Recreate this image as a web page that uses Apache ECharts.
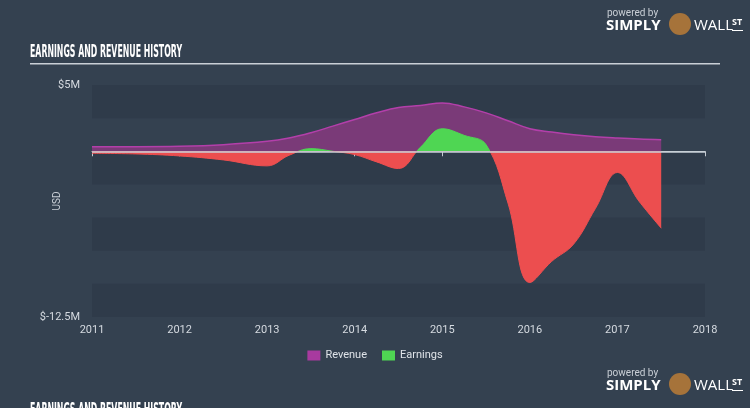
<!DOCTYPE html>
<html>
<head>
<meta charset="utf-8">
<script src="https://cdn.jsdelivr.net/npm/echarts@6/dist/echarts.min.js"></script>
<style>
  html, body { margin: 0; padding: 0; background: #344150; }
  #main { width: 750px; height: 408px; }
</style>
</head>
<body>
<div id="main"></div>
<script>
// values in $M, x in fractional years
const years = [2011, 2011.5, 2012, 2012.5, 2013, 2013.25, 2013.5, 2013.75, 2014, 2014.25, 2014.5, 2014.75,
  2015, 2015.25, 2015.5, 2015.75, 2016, 2016.25, 2016.5, 2016.75, 2017, 2017.25, 2017.5];
const revenue = [0.35, 0.35, 0.38, 0.5, 0.75, 1.0, 1.4, 1.9, 2.4, 2.9, 3.3, 3.45,
  3.65, 3.35, 2.9, 2.3, 1.7, 1.45, 1.25, 1.1, 1.0, 0.92, 0.87];
const earnings = [-0.15, -0.2, -0.35, -0.65, -1.1, -0.3, 0.2, 0.0, -0.25, -0.8, -1.3, 0.3,
  1.7, 1.2, 0.5, -3.9, -9.9, -8.3, -7.0, -4.3, -1.6, -3.8, -5.8];
const yTicks = [5, -12.5];

const pair = arr => years.map((y, i) => [y, arr[i]]);

const chart = echarts.init(document.getElementById('main'));

const titleFont = 'bold 17px "DejaVu Sans", sans-serif';

const option = {
  backgroundColor: '#344150',
  animation: false,
  textStyle: { fontFamily: 'Roboto, sans-serif' },
  grid: { left: 92, right: 45, top: 85, bottom: 91 },
  legend: {
    bottom: 42,
    left: 'center',
    itemWidth: 13,
    itemHeight: 10,
    itemGap: 15,
    icon: 'rect',
    textStyle: { color: '#dfe3e8', fontSize: 11 },
    data: [
      { name: 'Revenue', itemStyle: { color: '#a83a9f' } },
      { name: 'Earnings', itemStyle: { color: '#4fd653' } }
    ]
  },
  visualMap: {
    show: false,
    type: 'piecewise',
    seriesIndex: 1,
    dimension: 1,
    pieces: [
      { gt: 0, lte: 100, color: '#4fd653' },
      { gt: -100, lte: 0, color: '#ec4e4f' }
    ],
    outOfRange: { color: '#ec4e4f' }
  },
  xAxis: {
    type: 'value',
    min: 2011,
    max: 2018,
    interval: 1,
    axisLine: { lineStyle: { color: '#c3c9d0', width: 1 } },
    axisTick: { show: true, length: 5, lineStyle: { color: '#c3c9d0' } },
    axisLabel: { color: '#d5dae0', fontSize: 11, margin: 8, formatter: v => String(v) },
    splitLine: { show: false }
  },
  yAxis: {
    type: 'value',
    min: -12.5,
    max: 5,
    interval: 2.5,
    name: 'USD',
    nameLocation: 'middle',
    nameGap: 30,
    nameMoveOverlap: false,
    nameRotate: 90,
    nameTextStyle: { color: '#c9cfd6', fontSize: 10 },
    axisLine: { show: false },
    axisTick: { show: false },
    axisLabel: {
      color: '#d5dae0', fontSize: 11, margin: 12,
      formatter: v => yTicks.indexOf(v) >= 0 ? '$' + v + 'M' : ''
    },
    splitLine: { show: false },
    splitArea: { show: true, areaStyle: { color: ['#2f3b4a', 'rgba(0,0,0,0)'] } }
  },
  series: [
    {
      name: 'Revenue',
      type: 'line',
      smooth: 0.4,
      symbol: 'none',
      data: pair(revenue),
      itemStyle: { color: '#a83a9f' },
      lineStyle: { color: '#b33faa', width: 1.5 },
      areaStyle: { color: '#7a3a78', opacity: 1 },
      z: 2
    },
    {
      name: 'Earnings',
      type: 'line',
      smooth: 0.4,
      symbol: 'none',
      data: pair(earnings),
      lineStyle: { width: 1 },
      areaStyle: { opacity: 1 },
      z: 3
    },
    {
      name: 'zero',
      type: 'line',
      data: [],
      z: 4,
      markLine: {
        silent: true,
        symbol: ['none', 'none'],
        label: { show: false },
        lineStyle: { color: 'rgba(200,208,216,0.75)', type: 'solid', width: 2 },
        data: [{ yAxis: 0 }]
      }
    }
  ],
  graphic: [
    { type: 'text', x: 30, y: 44, scaleX: 0.46, style: { text: 'EARNINGS AND REVENUE HISTORY', fill: '#ffffff', font: titleFont } },
    { type: 'rect', shape: { x: 30, y: 63, width: 690, height: 1.5 }, style: { fill: '#c9cfd6' } },
    // logo top
    { type: 'text', left: 607, top: 8, style: { text: 'powered by', fill: '#c9cfd6', font: '10px Roboto, sans-serif' } },
    { type: 'text', left: 606, top: 18, style: { text: 'SIMPLY', fill: '#ffffff', font: 'bold 15px "Open Sans", sans-serif' } },
    { type: 'circle', shape: { cx: 680, cy: 24, r: 11 }, style: { fill: '#a6733a' } },
    { type: 'text', left: 694, top: 18, style: { text: 'WALL', fill: '#ffffff', font: '15px "Open Sans", sans-serif' } },
    { type: 'text', left: 732, top: 18, style: { text: 'ST', fill: '#ffffff', font: 'bold 9px "Open Sans", sans-serif' } },
    { type: 'rect', shape: { x: 732, y: 30, width: 11, height: 1 }, style: { fill: '#ffffff' } },
    // logo bottom
    { type: 'text', left: 607, top: 368, style: { text: 'powered by', fill: '#c9cfd6', font: '10px Roboto, sans-serif' } },
    { type: 'text', left: 606, top: 378, style: { text: 'SIMPLY', fill: '#ffffff', font: 'bold 15px "Open Sans", sans-serif' } },
    { type: 'circle', shape: { cx: 680, cy: 384, r: 11 }, style: { fill: '#a6733a' } },
    { type: 'text', left: 694, top: 378, style: { text: 'WALL', fill: '#ffffff', font: '15px "Open Sans", sans-serif' } },
    { type: 'text', left: 732, top: 378, style: { text: 'ST', fill: '#ffffff', font: 'bold 9px "Open Sans", sans-serif' } },
    { type: 'rect', shape: { x: 732, y: 390, width: 11, height: 1 }, style: { fill: '#ffffff' } },
    { type: 'text', x: 30, y: 402, scaleX: 0.46, style: { text: 'EARNINGS AND REVENUE HISTORY', fill: '#ffffff', font: titleFont } }
  ]
};

chart.setOption(option);
</script>
</body>
</html>
